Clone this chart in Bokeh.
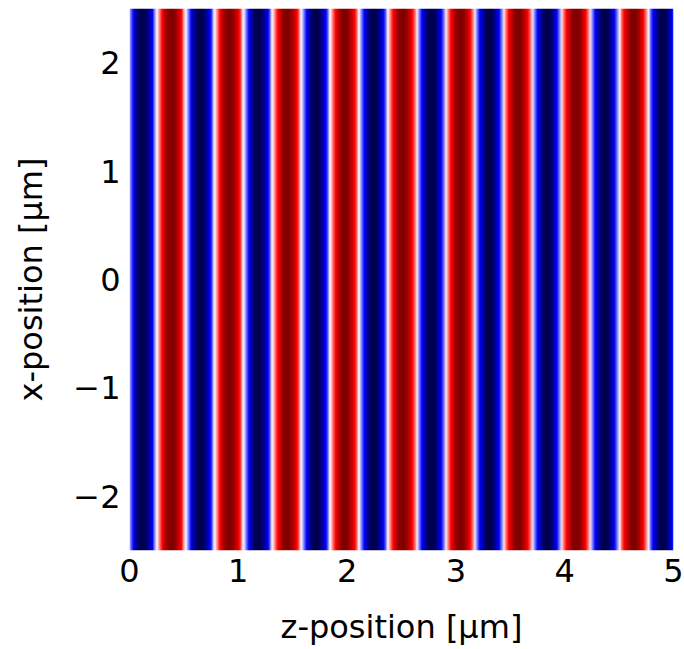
import numpy as np
from bokeh.plotting import figure
from bokeh.models import FixedTicker, Range1d, LinearColorMapper
from bokeh.embed import file_html
from bokeh.resources import INLINE

# ---- data ----
z_range_um = [0.0, 5.0]          # z-position extent
x_range_um = [-2.5, 2.5]         # x-position extent
wavelength_um = 0.532            # stripe period (red-to-red spacing)
trough_offset_um = 0.117         # z of first blue trough
n_samples_z = 600                # image columns
x_ticks = [0, 1, 2, 3, 4, 5]
y_ticks = [-2, -1, 0, 1, 2]
y_tick_labels = {-2: "\u22122", -1: "\u22121", 0: "0", 1: "1", 2: "2"}

# plane wave field, uniform along x, oscillating along z
z = np.linspace(z_range_um[0], z_range_um[1], n_samples_z)
field_row = -np.cos(2 * np.pi * (z - trough_offset_um) / wavelength_um)
field = np.vstack([field_row, field_row])

# matplotlib "seismic" colormap
anchors = [(0.0, (0, 0, 0.3)), (0.25, (0, 0, 1)), (0.5, (1, 1, 1)),
           (0.75, (1, 0, 0)), (1.0, (0.5, 0, 0))]
palette = []
for i in range(256):
    t = i / 255
    for (t0, c0), (t1, c1) in zip(anchors[:-1], anchors[1:]):
        if t0 <= t <= t1:
            f = (t - t0) / (t1 - t0)
            c = [c0[k] + f * (c1[k] - c0[k]) for k in range(3)]
            break
    palette.append("#%02x%02x%02x" % tuple(int(round(v * 255)) for v in c))

mapper = LinearColorMapper(palette=palette, low=-1, high=1)

p = figure(width=684, height=649, output_backend="svg", toolbar_location=None,
           x_range=Range1d(*z_range_um), y_range=Range1d(*x_range_um),
           min_border_left=129, min_border_right=11, min_border_top=8,
           min_border_bottom=99)
p.image(image=[field], x=z_range_um[0], y=x_range_um[0],
        dw=z_range_um[1] - z_range_um[0], dh=x_range_um[1] - x_range_um[0],
        color_mapper=mapper)

p.outline_line_color = None
p.grid.visible = False
p.background_fill_color = "white"

FONT = "DejaVu Sans"
for ax in (p.xaxis[0], p.yaxis[0]):
    ax.axis_line_color = None
    ax.major_tick_line_color = None
    ax.minor_tick_line_color = None
    ax.major_label_text_font = FONT
    ax.major_label_text_font_size = "32px"
    ax.major_label_text_color = "black"
    ax.axis_label_text_font = FONT
    ax.axis_label_text_font_size = "32px"
    ax.axis_label_text_font_style = "normal"
    ax.axis_label_text_color = "black"

p.xaxis[0].ticker = FixedTicker(ticks=x_ticks)
p.yaxis[0].ticker = FixedTicker(ticks=y_ticks)
p.yaxis[0].major_label_overrides = y_tick_labels
p.xaxis[0].axis_label = "z-position [\u00b5m]"
p.yaxis[0].axis_label = "x-position [\u00b5m]"
p.xaxis[0].major_label_standoff = 2
p.yaxis[0].major_label_standoff = 3
p.xaxis[0].axis_label_standoff = 23
p.yaxis[0].axis_label_standoff = 20

open("out.html", "w").write(file_html(p, INLINE))
